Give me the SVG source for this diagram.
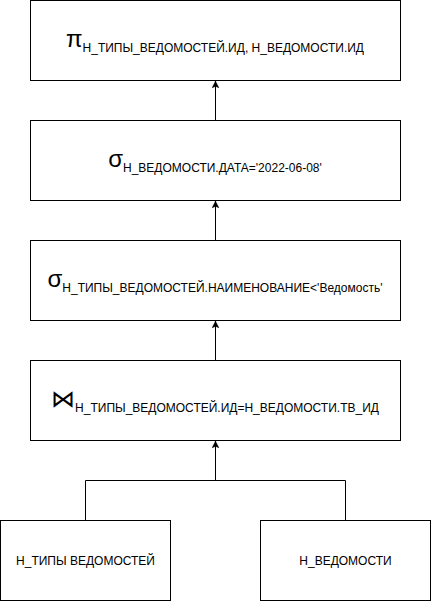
<svg xmlns="http://www.w3.org/2000/svg" width="431" height="601" viewBox="0 0 431 601">
<defs>
<style>
.box{fill:#fff;stroke:#000;stroke-width:1}
.t{font-family:"Liberation Sans",Arial,sans-serif;fill:#000;text-anchor:middle}
.sym{font-size:24px}
.sub{font-size:12px}
.edge{fill:none;stroke:#000;stroke-width:1}
</style>
<marker id="arr" viewBox="0 0 10 10" refX="10" refY="5" markerWidth="7" markerHeight="7" orient="auto" markerUnits="userSpaceOnUse">
<path d="M0,0 L10,5 L0,10 L2.5,5 Z" fill="#000" stroke="#000" stroke-width="0.5"/>
</marker>
</defs>
<rect width="431" height="601" fill="#fff"/>
<g id="proj">
<rect class="box" x="30.5" y="0.5" width="370" height="80"/>
<text class="t" x="215" y="47"><tspan class="sym">π</tspan><tspan class="sub" dy="5">Н_ТИПЫ_ВЕДОМОСТЕЙ.ИД, Н_ВЕДОМОСТИ.ИД</tspan></text>
</g>
<g id="sel-date">
<rect class="box" x="30.5" y="120.5" width="370" height="80"/>
<text class="t" x="215" y="167"><tspan class="sym">σ</tspan><tspan class="sub" dy="5">Н_ВЕДОМОСТИ.ДАТА='2022-06-08'</tspan></text>
</g>
<g id="sel-name">
<rect class="box" x="30.5" y="240.5" width="370" height="80"/>
<text class="t" x="215" y="287"><tspan class="sym">σ</tspan><tspan class="sub" dy="5">Н_ТИПЫ_ВЕДОМОСТЕЙ.НАИМЕНОВАНИЕ&lt;'Ведомость'</tspan></text>
</g>
<g id="join">
<rect class="box" x="30.5" y="360.5" width="370" height="80"/>
<text class="t" x="215" y="407"><tspan class="sym">⋈</tspan><tspan class="sub" dy="5">Н_ТИПЫ_ВЕДОМОСТЕЙ.ИД=Н_ВЕДОМОСТИ.ТВ_ИД</tspan></text>
</g>
<g id="types">
<rect class="box" x="0.5" y="520.5" width="170" height="80"/>
<text class="t sub" x="85.5" y="565">Н_ТИПЫ ВЕДОМОСТЕЙ</text>
</g>
<g id="sheets">
<rect class="box" x="260.5" y="520.5" width="170" height="80"/>
<text class="t sub" x="345.5" y="565">Н_ВЕДОМОСТИ</text>
</g>
<g id="connectors">
<path class="edge" d="M215.5,120 L215.5,81" marker-end="url(#arr)"/>
<path class="edge" d="M215.5,240 L215.5,201" marker-end="url(#arr)"/>
<path class="edge" d="M215.5,360 L215.5,321" marker-end="url(#arr)"/>
<path class="edge" d="M85.5,520 L85.5,480.5 L345.5,480.5 L345.5,520"/>
<path class="edge" d="M215.5,480.5 L215.5,441" marker-end="url(#arr)"/>
</g>
</svg>
